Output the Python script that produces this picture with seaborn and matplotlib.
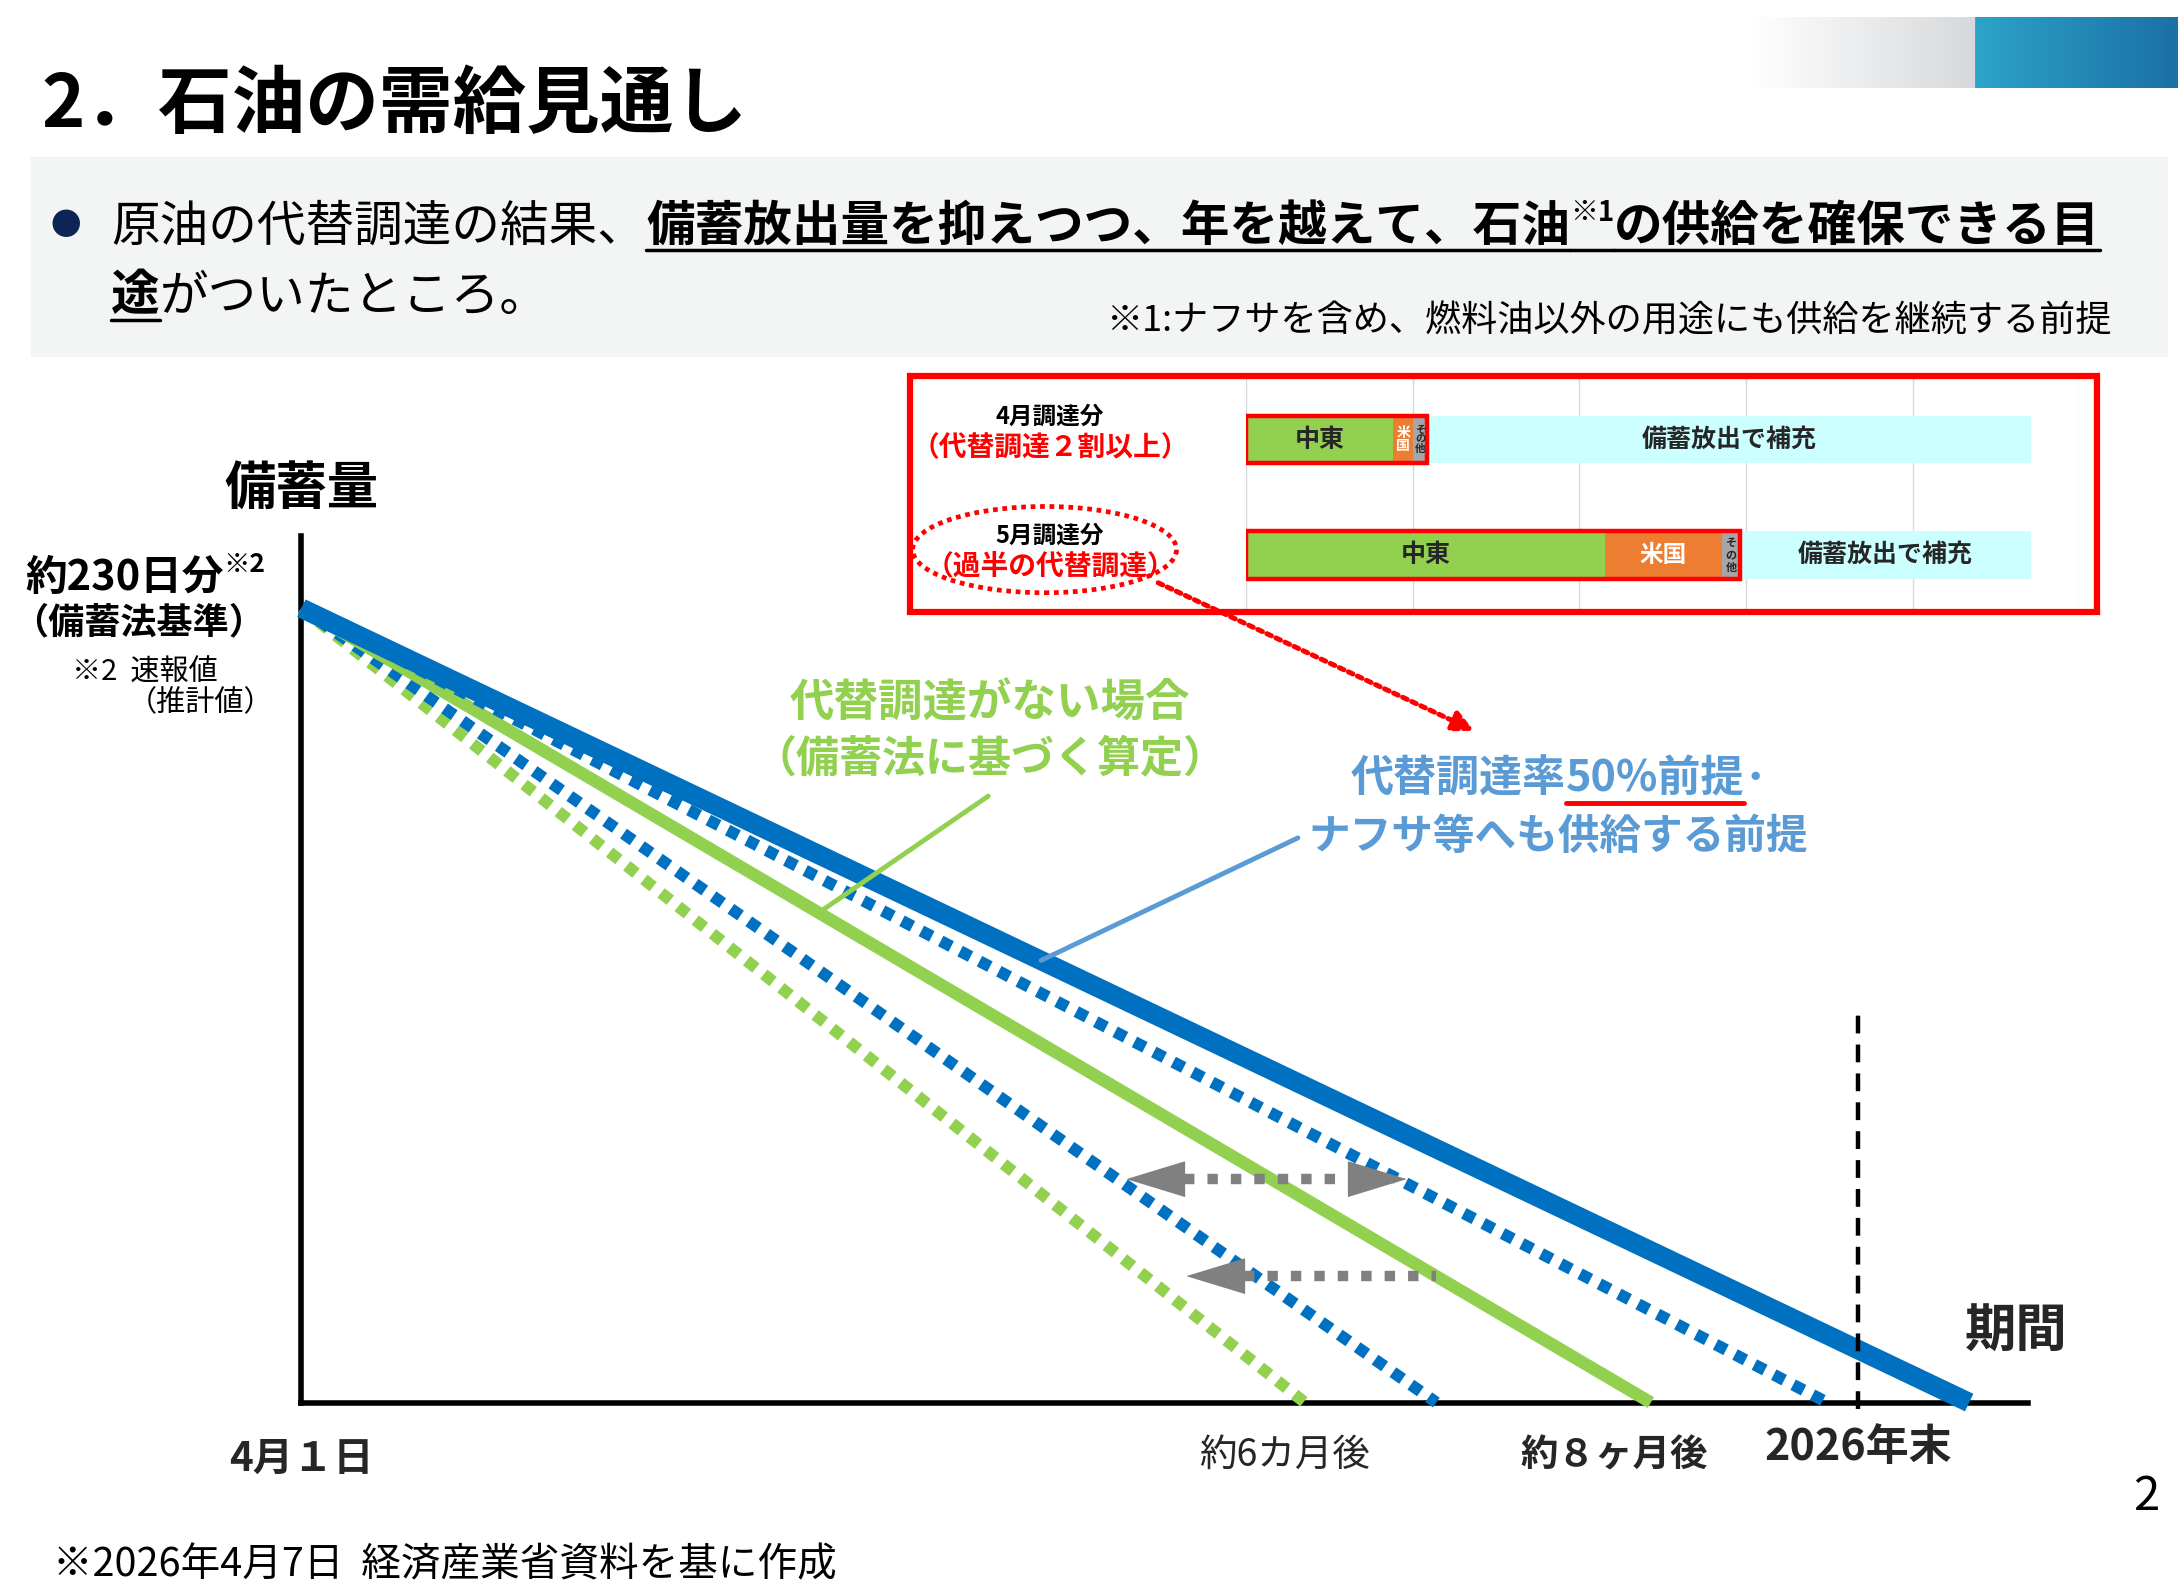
import numpy as np
import pandas as pd
import matplotlib
matplotlib.use("Agg")
import matplotlib.pyplot as plt
import seaborn as sns
from matplotlib.lines import Line2D
from matplotlib.patches import Rectangle, Ellipse, FancyArrowPatch

# ---------------- data ----------------
start_days = 230
scenarios = ["代替なし(早)", "代替50%(早)", "代替調達がない場合", "代替50%(ナフサ)", "代替調達率50%前提"]
end_months = [5.80, 6.56, 7.80, 8.82, 9.64]
line_colors = ["#92D050", "#0070C0", "#92D050", "#0070C0", "#0070C0"]
line_widths = [8.5, 8.5, 9, 8.5, 14]
line_dotted = [True, True, False, True, False]
year_end = 9.0
x_max = 9.98
y_max = 251

tick_months = [0, 5.68, 7.59, 9.0]
tick_labels = ["4月１日", "約6カ月後", "約８ヶ月後", "2026年末"]
tick_bold = [True, False, True, True]
tick_sizes = [29, 27, 27, 31]

arrow_days = [64.8, 36.6]
arrow_left = [4.77, 5.12]
arrow_right = [6.38, 6.56]
arrow_both = [True, False]

rows = ["4月調達分", "5月調達分"]
row_notes = ["（代替調達２割以上）", "（過半の代替調達）"]
segments = ["中東", "米国", "その他", "備蓄放出で補充"]
seg_colors = ["#92D050", "#ED7D31", "#A6A6A6", "#CCFFFF"]
share_apr = [18.8, 2.5, 1.8, 76.9]
share_may = [45.7, 15.0, 2.3, 37.0]

# ---------------- setup ----------------
sns.set_theme(style="white")
plt.rcParams["font.family"] = ["Noto Sans CJK JP", "DejaVu Sans"]

W, H = 1568, 1142          # layout units (reference at display scale)
S = 2178 / W               # pixels per layout unit
fig = plt.figure(figsize=(21.78, 15.89), dpi=100)
fig.patch.set_facecolor("white")
renderer = fig.canvas.get_renderer()


def fx(x):
    return x / W


def fy(y):
    return 1 - y / H


def put(x, y, s, size, weight="normal", color="black", ha="left", va="baseline", **kw):
    return fig.text(fx(x), fy(y), s, fontsize=size, fontweight=weight, color=color,
                    ha=ha, va=va, **kw)


def width_of(s, size, weight):
    t = put(0, 0, s, size, weight)
    w = t.get_window_extent(renderer).width / S
    t.remove()
    return w


def run(x, y, pieces, ul_off=7, ul_lw=2.5):
    # pieces: (text, size, weight, color, underline, rise)
    for s, size, weight, color, ul, rise in pieces:
        t = put(x, y - rise, s, size, weight, color)
        w = t.get_window_extent(renderer).width / S
        if ul:
            fig.add_artist(Line2D([fx(x), fx(x + w)], [fy(y + ul_off)] * 2,
                                  color="black" if ul is True else ul, lw=ul_lw))
        x += w
    return x


# ---------------- header ----------------
grad = np.zeros((1, 308, 3))
g1 = np.linspace(0, 1, 162)[:, None]
grad[0, :162] = (1 - g1) * np.array([1, 1, 1]) + g1 * np.array([0.84, 0.85, 0.86])
g2 = np.linspace(0, 1, 146)[:, None]
grad[0, 162:] = (1 - g2) * np.array([0.17, 0.64, 0.79]) + g2 * np.array([0.11, 0.44, 0.65])
gax = fig.add_axes([fx(1260), fy(63), fx(308), 51 / H])
gax.imshow(grad, aspect="auto")
gax.axis("off")

put(30, 70, "2．石油の需給見通し", 53, "bold", va="center_baseline")

fig.add_artist(Rectangle((fx(22), fy(256)), fx(1538), 143 / H, color="#F3F5F5", zorder=0))
put(47, 160, "●", 22, color="#0D2456", ha="center", va="center_baseline")

x = run(80, 173, [("原油の代替調達の結果、", 35, "normal", "black", False, 0)])
run(x, 173, [("備蓄放出量を抑えつつ、年を越えて、石油", 35, "bold", "black", True, 0),
             ("※1", 20, "bold", "black", True, 14),
             ("の供給を確保できる目", 35, "bold", "black", True, 0)])
x = run(80, 223, [("途", 35, "bold", "black", True, 0)])
run(x, 223, [("がついたところ。", 35, "normal", "black", False, 0)])
put(1520, 238, "※1:ナフサを含め、燃料油以外の用途にも供給を継続する前提", 26, ha="right")

# ---------------- main chart ----------------
ax = fig.add_axes([fx(217), fy(1008), fx(1460 - 217), (1008 - 385) / H])
ax.set_facecolor("none")
df = pd.DataFrame({
    "scenario": np.repeat(scenarios, 2),
    "month": np.ravel([[0, m] for m in end_months]),
    "days": np.tile([start_days, 0], len(scenarios)),
})
for i, name in enumerate(scenarios):
    sub = df[df["scenario"] == name]
    ls = (0, (1.0, 0.85)) if line_dotted[i] else "-"
    sns.lineplot(data=sub, x="month", y="days", ax=ax, color=line_colors[i],
                 lw=line_widths[i], linestyle=ls, estimator=None, sort=False,
                 legend=False, clip_on=False, solid_capstyle="butt", zorder=3 + i)

ax.vlines(year_end, -2, 115, colors="black", linestyles=(0, (4, 2.5)), lw=3.2,
          clip_on=False, zorder=10)

hl = 41 / 124.67
head_l = [(0, 0), (2, 0.61), (2, -0.61)]
head_r = [(0, 0), (-2, 0.61), (-2, -0.61)]
for yv, xl, xr, both in zip(arrow_days, arrow_left, arrow_right, arrow_both):
    ax.plot([xl + hl, xr - (hl if both else 0)], [yv, yv], color="#808080", lw=7.5,
            linestyle=(0, (1.0, 1.25)), zorder=12)
    ax.plot([xl], [yv], marker=head_l, markersize=82, color="#808080", lw=0, zorder=12)
    if both:
        ax.plot([xr], [yv], marker=head_r, markersize=82, color="#808080", lw=0, zorder=12)

ax.set_xlim(0, x_max)
ax.set_ylim(0, y_max)
ax.set_xticks([])
ax.set_yticks([])
ax.set_xlabel("")
ax.set_ylabel("")
sns.despine(ax=ax)
for sp in ["left", "bottom"]:
    ax.spines[sp].set_linewidth(4)
    ax.spines[sp].set_color("black")
    ax.spines[sp].set_zorder(2)

label_days = [-16.5, -15.3, -15.3, -12.9]
for m, lab, b, dy, fs in zip(tick_months, tick_labels, tick_bold, label_days, tick_sizes):
    ax.text(m, dy, lab, fontsize=fs, fontweight="bold" if b else "normal",
            ha="center", va="center", clip_on=False)
ax.text(9.91, 20.5, "期間", fontsize=37, fontweight="bold", ha="center", va="center")

# callouts
green_pt = (2.99, start_days * (1 - 2.99 / end_months[2]))
blue_pt = (4.275, start_days * (1 - 4.275 / end_months[4]))
ax.plot([3.97, green_pt[0]], [175.6, green_pt[1]], color="#92D050", lw=3.5, zorder=9)
ax.plot([5.76, blue_pt[0]], [163.5, blue_pt[1]], color="#5B9BD5", lw=3.5, zorder=9)

put(713, 502, "代替調達がない場合", 32, "bold", "#92D050", ha="center", va="center_baseline")
put(713, 542, "（備蓄法に基づく算定）", 31, "bold", "#92D050", ha="center", va="center_baseline")

p1 = [("代替調達率", 31, "bold", "#5B9BD5", False, 0),
      ("50%前提", 31, "bold", "#5B9BD5", "#FF0000", 0),
      ("･", 31, "bold", "#5B9BD5", False, 0)]
tw = sum(width_of(p[0], p[1], p[2]) for p in p1)
run(1122 - tw / 2, 569, p1, ul_off=8, ul_lw=3.5)
put(1122, 598, "ナフサ等へも供給する前提", 30, "bold", "#5B9BD5", ha="center", va="center_baseline")

# y-axis notes
put(217, 348, "備蓄量", 37, "bold", ha="center", va="center_baseline")
run(18, 424, [("約230日分", 30, "bold", "black", False, 0),
              ("※2", 19, "bold", "black", False, 13)])
put(100, 445, "（備蓄法基準）", 26, "bold", ha="center", va="center_baseline")
put(52, 481, "※2  速報値", 21, va="center_baseline")
put(92, 503, "（推計値）", 21, va="center_baseline")

# ---------------- inset bar chart ----------------
fig.add_artist(Rectangle((fx(655), fy(440)), fx(1510 - 655), 170 / H, fill=False,
                         edgecolor="#FF0000", lw=4.5, zorder=20))
bax = fig.add_axes([fx(897), fy(438), fx(1497 - 897), 166 / H])
bax.set_facecolor("none")
for i, shares in enumerate([share_apr, share_may]):
    left = 0
    for j, (seg, val) in enumerate(zip(segments, shares)):
        bax.barh(i, val, left=left, height=0.41, color=seg_colors[j], lw=0, zorder=3)
        c = left + val / 2
        if seg == "その他":
            bax.text(c, i, "そ\nの\n他", fontsize=7.5 if i == 0 else 8, fontweight="bold",
                     ha="center", va="center", linespacing=0.95, zorder=5)
        elif seg == "米国":
            txt = "米\n国" if val < 5 else "米国"
            bax.text(c, i, txt, fontsize=10 if val < 5 else 17, fontweight="bold",
                     color="white", ha="center", va="center", linespacing=0.95, zorder=5)
        else:
            bax.text(c, i, seg, fontsize=18, fontweight="bold", ha="center",
                     va="center", zorder=5)
        left += val
    bax.barh(i, sum(shares[:3]), left=0, height=0.41, fill=False, edgecolor="#FF0000",
             lw=3.2, zorder=4)
bax.set_xlim(0, 106.2)
bax.set_ylim(1.47, -0.53)
bax.set_xticks(np.arange(0, 107, 21.24))
bax.set_yticks([])
bax.set_xticklabels([])
bax.grid(axis="x", color="#D9D9D9", lw=1)
for sp in bax.spines.values():
    sp.set_visible(False)
bax.tick_params(length=0)

label_y = [(298, 320), (383, 405)]
for r, note, (y1, y2) in zip(rows, row_notes, label_y):
    put(756, y1, r, 17, "bold", ha="center", va="center_baseline")
    put(756, y2, note, 20, "bold", "#FF0000", ha="center", va="center_baseline")

fig.add_artist(Ellipse((fx(752), fy(395)), fx(190), 62 / H, fill=False,
                       edgecolor="#FF0000", lw=3.4, linestyle=(0, (1, 1))))
fig.add_artist(FancyArrowPatch(
    (fx(832), fy(418)), (fx(1063), fy(526)), transform=fig.transFigure,
    arrowstyle="-|>,head_length=0.9,head_width=0.45", mutation_scale=14,
    color="#FF0000", lw=3.6, linestyle=(0, (1, 1))))

# ---------------- footer ----------------
put(1545, 1072, "2", 34, ha="center", va="center_baseline")
put(38, 1122, "※2026年4月7日  経済産業省資料を基に作成", 28.5, va="center_baseline")

fig.savefig("out.png", dpi=100)
